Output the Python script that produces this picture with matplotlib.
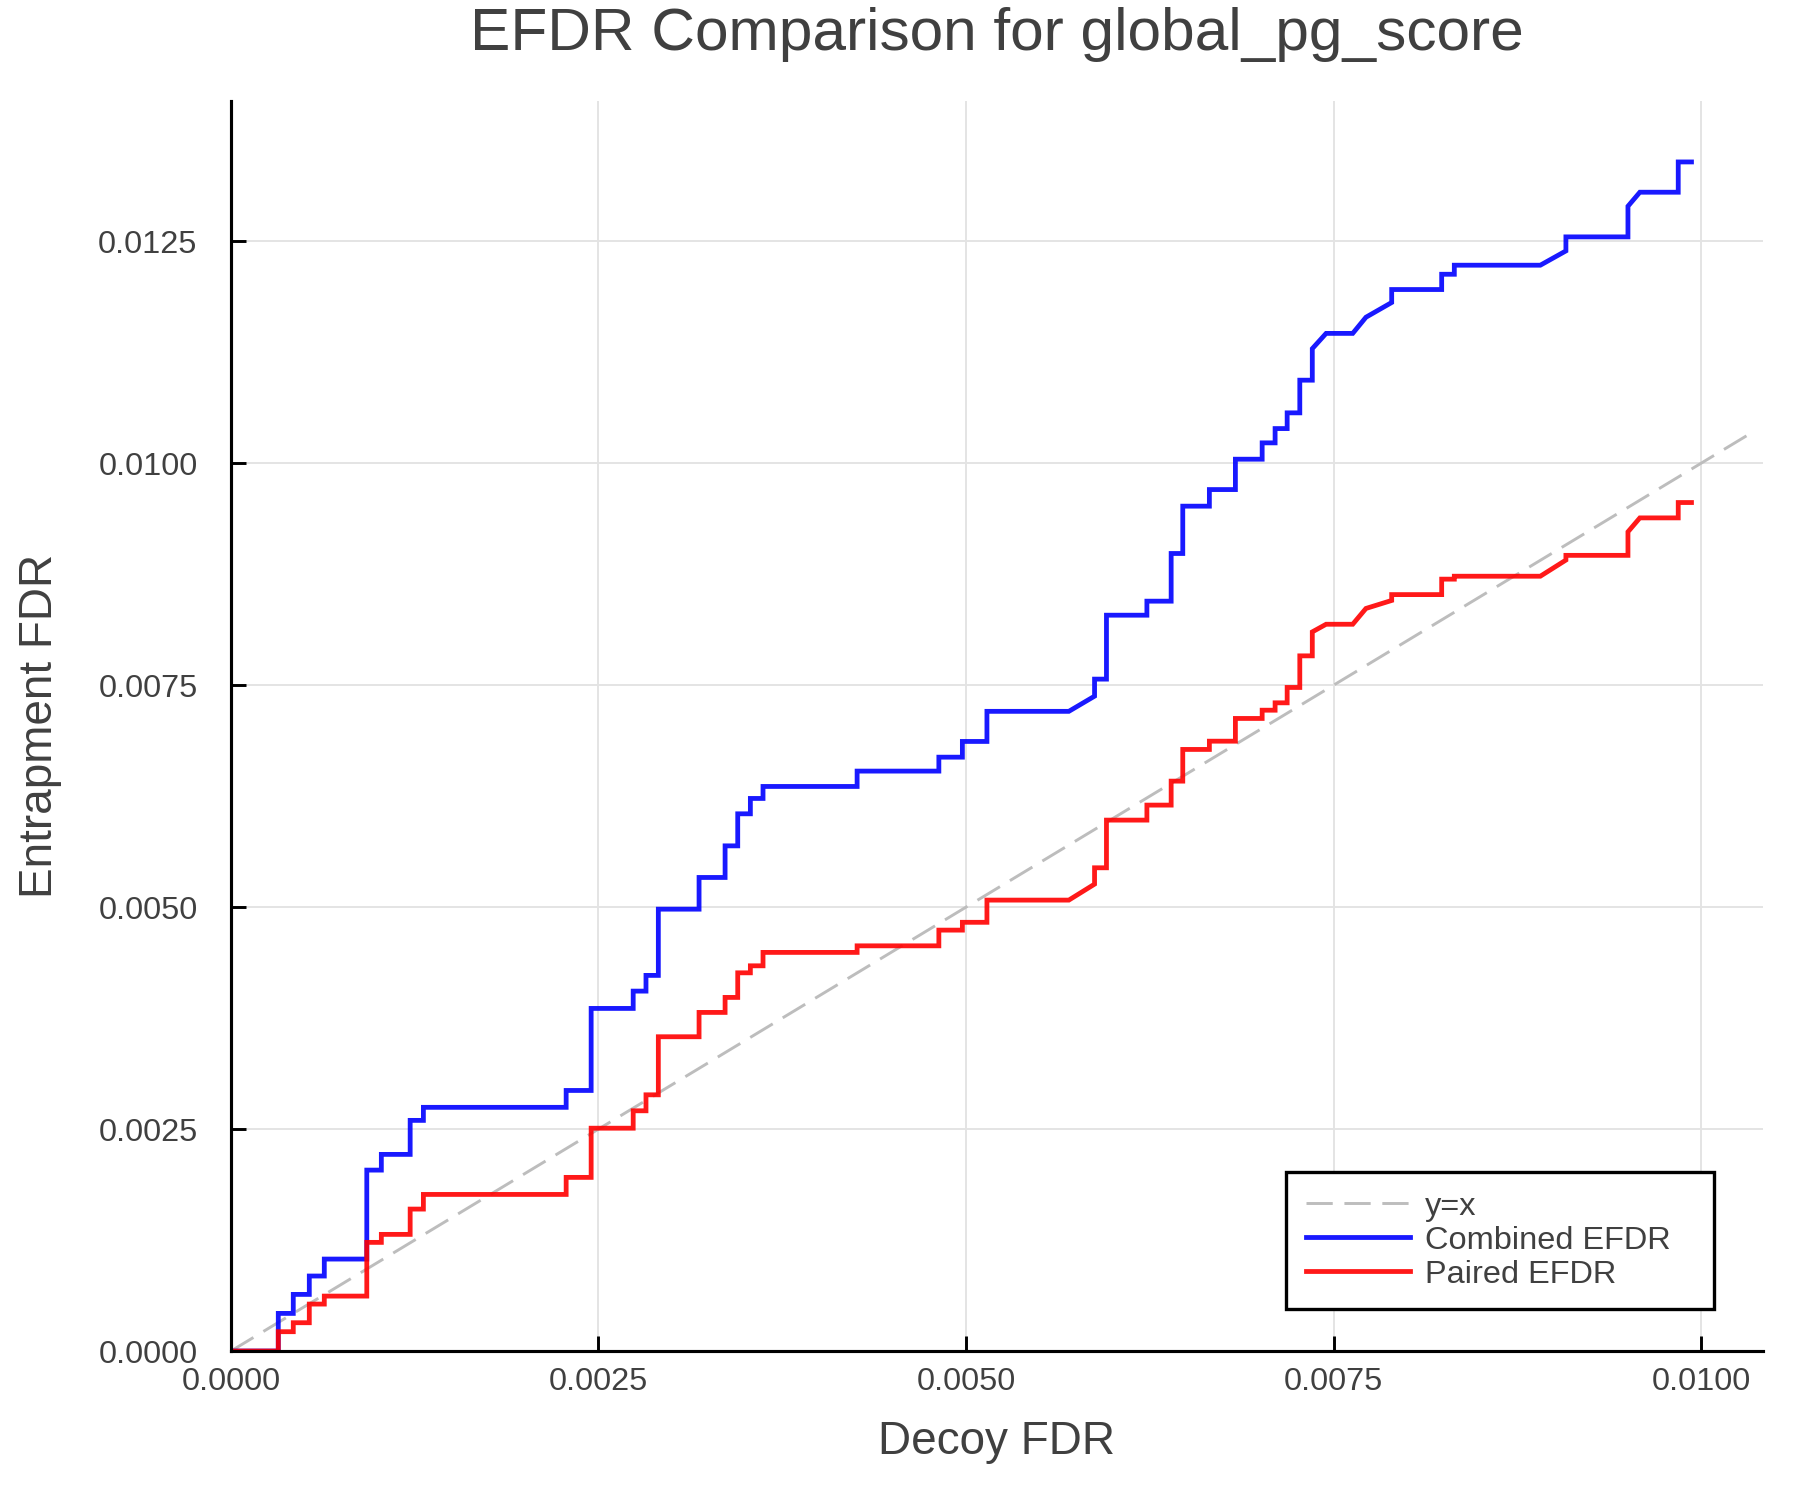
import matplotlib
matplotlib.use("Agg")
import matplotlib.pyplot as plt


# curve points (decoy FDR threshold, entrapment FDR)
decoy_fdr = [
    0, 0.000322, 0.000322, 0.000424, 0.000424, 0.000533, 0.000533, 0.000635, 0.000635, 0.000924,
    0.000924, 0.001023, 0.001023, 0.001219, 0.001219, 0.001309, 0.001309, 0.002280, 0.002280, 0.002450,
    0.002450, 0.002736, 0.002736, 0.002823, 0.002823, 0.002907, 0.002907, 0.003184, 0.003184, 0.003361,
    0.003361, 0.003447, 0.003447, 0.003533, 0.003533, 0.003619, 0.003619, 0.004259, 0.004259, 0.004815,
    0.004815, 0.004975, 0.004975, 0.005142, 0.005142, 0.005699, 0.005874, 0.005874, 0.005955, 0.005955,
    0.006230, 0.006230, 0.006395, 0.006395, 0.006474, 0.006474, 0.006655, 0.006655, 0.006832, 0.006832,
    0.007014, 0.007014, 0.007102, 0.007102, 0.007184, 0.007184, 0.007270, 0.007270, 0.007355, 0.007355,
    0.007449, 0.007630, 0.007720, 0.007895, 0.007895, 0.008235, 0.008235, 0.008321, 0.008321, 0.008906,
    0.009080, 0.009080, 0.009502, 0.009502, 0.009583, 0.009844, 0.009844, 0.009934,
]

combined_efdr = [
    0, 0, 0.000424, 0.000424, 0.000638, 0.000638, 0.000845, 0.000845, 0.001036, 0.001036,
    0.002038, 0.002038, 0.002215, 0.002215, 0.002598, 0.002598, 0.002745, 0.002745, 0.002935, 0.002935,
    0.003859, 0.003859, 0.004054, 0.004054, 0.004231, 0.004231, 0.004977, 0.004977, 0.005334, 0.005334,
    0.005690, 0.005690, 0.006051, 0.006051, 0.006224, 0.006224, 0.006359, 0.006359, 0.006532, 0.006532,
    0.006689, 0.006689, 0.006866, 0.006866, 0.007205, 0.007205, 0.007376, 0.007568, 0.007568, 0.008288,
    0.008288, 0.008446, 0.008446, 0.008983, 0.008983, 0.009516, 0.009516, 0.009703, 0.009703, 0.010045,
    0.010045, 0.010229, 0.010229, 0.010390, 0.010390, 0.010567, 0.010567, 0.010935, 0.010935, 0.011290,
    0.011462, 0.011462, 0.011644, 0.011810, 0.011956, 0.011956, 0.012128, 0.012128, 0.012230, 0.012230,
    0.012391, 0.012549, 0.012549, 0.012894, 0.013052, 0.013052, 0.013393, 0.013393,
]

paired_efdr = [
    0, 0, 0.000218, 0.000218, 0.000319, 0.000319, 0.000529, 0.000529, 0.000619, 0.000619,
    0.001224, 0.001224, 0.001314, 0.001314, 0.001599, 0.001599, 0.001764, 0.001764, 0.001956, 0.001956,
    0.002510, 0.002510, 0.002706, 0.002706, 0.002886, 0.002886, 0.003540, 0.003540, 0.003814, 0.003814,
    0.003983, 0.003983, 0.004260, 0.004260, 0.004339, 0.004339, 0.004490, 0.004490, 0.004564, 0.004564,
    0.004741, 0.004741, 0.004829, 0.004829, 0.005079, 0.005079, 0.005259, 0.005443, 0.005443, 0.005980,
    0.005980, 0.006149, 0.006149, 0.006419, 0.006419, 0.006776, 0.006776, 0.006869, 0.006869, 0.007125,
    0.007125, 0.007218, 0.007218, 0.007301, 0.007301, 0.007474, 0.007474, 0.007830, 0.007830, 0.008100,
    0.008186, 0.008186, 0.008364, 0.008454, 0.008520, 0.008520, 0.008694, 0.008694, 0.008727, 0.008727,
    0.008909, 0.008962, 0.008962, 0.009227, 0.009384, 0.009384, 0.009557, 0.009557,
]

diag = [0, 0.01036]

x_ticks = [0.0, 0.0025, 0.0050, 0.0075, 0.0100]
y_ticks = [0.0, 0.0025, 0.0050, 0.0075, 0.0100, 0.0125]

TEXT = "#404040"

plt.rcParams["font.family"] = ["Liberation Sans", "DejaVu Sans"]

fig = plt.figure(figsize=(12, 10), dpi=150)
ax = fig.add_axes([0.1283, 0.0993, 0.8511, 0.8334])

ax.plot(diag, diag, color="#bdbdbd", lw=1.4, dashes=(9, 4), label="y=x")
ax.plot(decoy_fdr, combined_efdr, color="blue", alpha=0.9, lw=2.3,
        label="Combined EFDR", solid_joinstyle="miter")
ax.plot(decoy_fdr, paired_efdr, color="red", alpha=0.9, lw=2.3,
        label="Paired EFDR", solid_joinstyle="miter")

ax.set_xlim(0, 0.01042)
ax.set_ylim(0, 0.01408)

ax.set_xticks(x_ticks)
ax.set_yticks(y_ticks)
ax.set_xticklabels([f"{v:.4f}" for v in x_ticks])
ax.set_yticklabels([f"{v:.4f}" for v in y_ticks])

ax.grid(True, color="#e3e3e3", lw=0.9)
ax.set_axisbelow(True)

for side in ["top", "right"]:
    ax.spines[side].set_visible(False)
for side in ["left", "bottom"]:
    ax.spines[side].set_linewidth(1.5)
    ax.spines[side].set_color("black")

ax.tick_params(axis="both", direction="in", length=7.2, width=1.4,
               labelsize=15.6, labelcolor=TEXT, color="black")
ax.tick_params(axis="x", pad=7.5)
ax.tick_params(axis="y", pad=16)

ax.set_xlabel("Decoy FDR", fontsize=22, color=TEXT, va="center")
ax.set_ylabel("Entrapment FDR", fontsize=22, color=TEXT, va="center")
ax.xaxis.set_label_coords(0.5, -0.0728)
ax.yaxis.set_label_coords(-0.1247, 0.5)

fig.text(0.5539, 0.9767, "EFDR Comparison for global_pg_score",
         fontsize=29, color=TEXT, ha="center", va="center")

leg = ax.legend(loc="lower left",
                bbox_to_anchor=(0.689, 0.0336, 0.279, 0.12),
                mode="expand", borderaxespad=0, fontsize=15.6,
                handlelength=3.2, handletextpad=0.45, labelspacing=0.12,
                borderpad=0.6, fancybox=False, framealpha=1)
leg.get_frame().set_edgecolor("black")
leg.get_frame().set_linewidth(1.6)
for t in leg.get_texts():
    t.set_color(TEXT)

fig.savefig("out.png", dpi=150)
